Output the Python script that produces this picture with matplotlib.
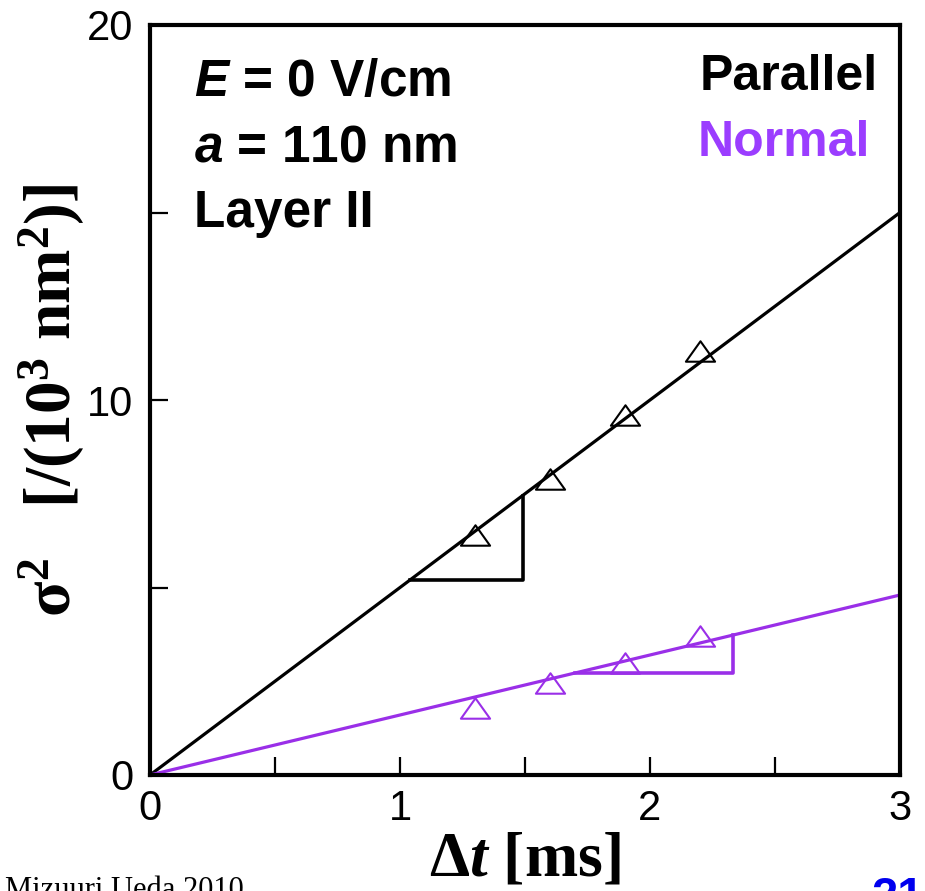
import numpy as np
import matplotlib
matplotlib.use("Agg")
import matplotlib.pyplot as plt
from matplotlib.path import Path

# data
dt = [1.3, 1.6, 1.9, 2.2]
sig_par = [6.4, 7.9, 9.6, 11.3]
sig_norm = [1.8, 2.45, 3.0, 3.7]
slope_par = 5.0
slope_norm = 1.6
fit_x = [0.0, 3.0]
tri_par = [1.04, 1.49]
tri_norm = [1.70, 2.33]
xticks = [0, 0.5, 1, 1.5, 2, 2.5, 3]
xticklabels = ["0", "", "1", "", "2", "", "3"]
yticks = [0, 5, 10, 15, 20]
yticklabels = ["0", "", "10", "", "20"]

black = "black"
purple = "#9a2fe8"
purple_txt = "#9b3dff"

plt.rcParams["mathtext.fontset"] = "custom"
plt.rcParams["mathtext.rm"] = "Liberation Serif:bold"
plt.rcParams["mathtext.it"] = "Liberation Serif:italic:bold"
plt.rcParams["mathtext.bf"] = "Liberation Serif:bold"
plt.rcParams["mathtext.sf"] = "Liberation Sans:italic:bold"

tri = Path([(-1, -0.7), (1, -0.7), (0, 0.7), (-1, -0.7)],
           [Path.MOVETO, Path.LINETO, Path.LINETO, Path.CLOSEPOLY])

fig = plt.figure(figsize=(9.25, 8.91), dpi=100)
ax = fig.add_axes([150 / 925, 1 - 775 / 891, 750 / 925, 750 / 891])

fx = np.array(fit_x)
ax.plot(fx, slope_par * fx, color=black, lw=2.3)
ax.plot(fx, slope_norm * fx, color=purple, lw=2.3)

# slope triangles
x0, x1 = tri_par
ax.plot([x0, x1, x1], [slope_par * x0, slope_par * x0, slope_par * x1], color=black, lw=2.6)
x0, x1 = tri_norm
ax.plot([x0, x1, x1], [slope_norm * x0, slope_norm * x0, slope_norm * x1], color=purple, lw=2.6)

ax.plot(dt, sig_par, ls="none", marker=tri, ms=21, mfc="none", mec=black, mew=1.5)
ax.plot(dt, sig_norm, ls="none", marker=tri, ms=21, mfc="none", mec=purple, mew=1.5)

ax.set_xlim(0, 3)
ax.set_ylim(0, 20)
ax.set_xticks(xticks)
ax.set_xticklabels(xticklabels)
ax.set_yticks(yticks)
ax.set_yticklabels(yticklabels)
ax.tick_params(direction="in", length=13, width=1.6, labelsize=30)
ax.tick_params(axis="x", pad=10)
ax.tick_params(axis="y", pad=12)
for lab in ax.get_xticklabels() + ax.get_yticklabels():
    lab.set_family(["Liberation Sans", "DejaVu Sans"])
for sp in ax.spines.values():
    sp.set_linewidth(3)

ax.set_xlabel(r"$\Delta \mathit{t}$ [ms]", family="Liberation Serif", weight="bold",
              fontsize=46, labelpad=2)
ax.set_ylabel(r"$\mathrm{\sigma}^2$   [/(10$^3$ nm$^2$)]", family="Liberation Serif",
              weight="bold", fontsize=47, labelpad=0)

sans = ["Liberation Sans", "DejaVu Sans"]
ax.text(0.058, 0.923, r"$\mathsf{E}$ = 0 V/cm", transform=ax.transAxes, family=sans,
        weight="bold", fontsize=37, va="center")
ax.text(0.058, 0.836, r"$\mathsf{a}$ = 110 nm", transform=ax.transAxes, family=sans,
        weight="bold", fontsize=37, va="center")
ax.text(0.058, 0.749, "Layer II", transform=ax.transAxes, family=sans,
        weight="bold", fontsize=37, va="center")
ax.text(0.97, 0.931, "Parallel", transform=ax.transAxes, family=sans,
        weight="bold", fontsize=36, va="center", ha="right", color=black)
ax.text(0.96, 0.842, "Normal", transform=ax.transAxes, family=sans,
        weight="bold", fontsize=36, va="center", ha="right", color=purple_txt)

fig.text(5 / 925, 1 - 876 / 891, "Mizuuri Ueda 2010", family="Liberation Serif",
         fontsize=22, va="top")
fig.text(924 / 925, 1 - 876 / 891, "21", family=sans, weight="bold",
         fontsize=34, va="top", ha="right", color="#0000ee")

fig.savefig("out.png", dpi=100)
